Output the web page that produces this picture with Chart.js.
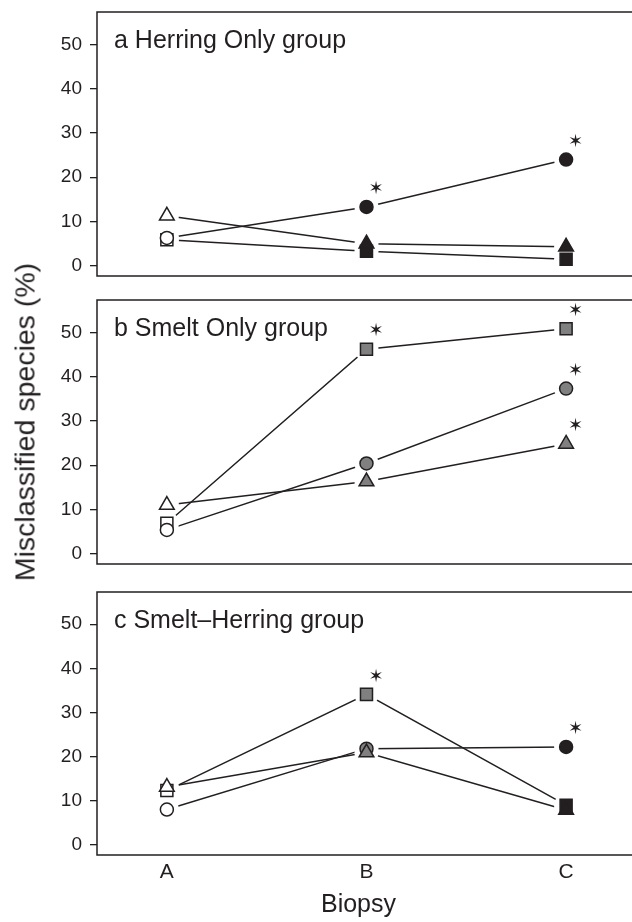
<!DOCTYPE html>
<html>
<head>
<meta charset="utf-8">
<script src="https://cdn.jsdelivr.net/npm/chart.js@4.4.1/dist/chart.umd.min.js"></script>
<style>
  body { margin: 0; background: #fff; }
  #wrap { position: relative; width: 632px; height: 922px; overflow: hidden; font-family: "Liberation Sans", Arial, sans-serif; }
  canvas { position: absolute; left: 0; }
  #ylab { position: absolute; left: 25px; top: 422px; transform: translate(-50%, -50%) rotate(-90deg);
          white-space: nowrap; font-size: 28.5px; color: #231f20; }
</style>
</head>
<body>
<div id="wrap">
  <canvas id="panelA" width="632" height="288" style="top:0px"></canvas>
  <canvas id="panelB" width="632" height="288" style="top:288px"></canvas>
  <canvas id="panelC" width="632" height="342" style="top:580px"></canvas>
  <div id="ylab">Misclassified species (%)</div>
</div>
<script>
// biopsy positions on the x axis
const biopsies = ['A', 'B', 'C'];
const biopsyPos = [1, 2, 3];
const yTicks = [0, 10, 20, 30, 40, 50];
const titles = ['a Herring Only group', 'b Smelt Only group', 'c Smelt\u2013Herring group'];

// a: Herring Only
const herringCircle = [6.3, 13.3, 24.0];
const herringTriangle = [11.3, 5.0, 4.3];
const herringSquare = [5.9, 3.3, 1.5];
const herringCircleStar = [0, 1, 1];
const herringTriangleStar = [0, 0, 0];
const herringSquareStar = [0, 0, 0];
const herringFill = ['open', 'black', 'black'];

// b: Smelt Only
const smeltCircle = [5.4, 20.4, 37.3];
const smeltTriangle = [11.0, 16.3, 24.8];
const smeltSquare = [6.9, 46.2, 50.8];
const smeltCircleStar = [0, 0, 1];
const smeltTriangleStar = [0, 0, 1];
const smeltSquareStar = [0, 1, 1];
const smeltFill = ['open', 'grey', 'grey'];

// c: Smelt-Herring
const mixedCircle = [8.0, 21.8, 22.2];
const mixedTriangle = [13.1, 20.9, 7.9];
const mixedSquare = [12.3, 34.1, 9.0];
const mixedCircleStar = [0, 0, 1];
const mixedTriangleStar = [0, 0, 0];
const mixedSquareStar = [0, 1, 0];
const mixedFill = ['open', 'grey', 'black'];

const INK = '#231f20';
const fillColors = { open: '#ffffff', grey: '#808080', black: INK };

function pts(values) {
    return biopsyPos.map((x, i) => ({ x: x, y: values[i] }));
}

// draws the panel box, the panel title and the asterisks
const panelDeco = {
    id: 'panelDeco',
    afterDatasetsDraw(chart, args, opts) {
        const ctx = chart.ctx;
        const a = chart.chartArea;
        ctx.save();
        ctx.strokeStyle = INK;
        ctx.lineWidth = 1.5;
        ctx.beginPath();
        ctx.moveTo(chart.width, a.top);
        ctx.lineTo(a.left, a.top);
        ctx.lineTo(a.left, a.bottom);
        ctx.lineTo(chart.width, a.bottom);
        ctx.stroke();

        ctx.fillStyle = INK;
        ctx.font = '25px "Liberation Sans", Arial, sans-serif';
        ctx.textBaseline = 'alphabetic';
        ctx.fillText(opts.title, a.left + 17, a.top + 36);

        ctx.font = 'bold 18px "DejaVu Sans"';
        ctx.textAlign = 'center';
        ctx.textBaseline = 'middle';
        chart.data.datasets.forEach((ds, di) => {
            if (!ds.stars) return;
            const meta = chart.getDatasetMeta(di);
            ds.stars.forEach((s, i) => {
                if (!s) return;
                const p = meta.data[i];
                ctx.fillText('\u2736', p.x + 9.5, p.y - 17.5);
            });
        });
        ctx.restore();
    }
};

function makePanel(id, title, circle, triangle, square, stars, fills, showX) {
    const series = [
        { vals: square, style: 'rect', r: 8.5, order: 3, stars: stars[2] },
        { vals: circle, style: 'circle', r: 6.5, order: 2, stars: stars[0] },
        { vals: triangle, style: 'triangle', r: 8.5, order: 1, stars: stars[1] }
    ];
    const datasets = [];
    series.forEach(s => {
        // connecting line
        datasets.push({ data: pts(s.vals), showLine: true, borderColor: INK, borderWidth: 1.5,
            pointRadius: 0, order: 30 });
        // white gap round each point, like R type="b"
        datasets.push({ data: pts(s.vals), showLine: false, pointRadius: 12, pointStyle: 'circle',
            pointBackgroundColor: '#fff', pointBorderWidth: 0, order: 20 });
        // marker
        datasets.push({ data: pts(s.vals), showLine: false, pointStyle: s.style, pointRadius: s.r,
            pointBackgroundColor: fills.map(f => fillColors[f]), pointBorderColor: INK,
            pointBorderWidth: 1.5, order: s.order, stars: s.stars });
    });

    return new Chart(document.getElementById(id), {
        type: 'scatter',
        data: { datasets: datasets },
        plugins: [panelDeco],
        options: {
            responsive: false,
            animation: false,
            events: [],
            layout: { padding: { top: 4, bottom: showX ? 0 : 5, left: 0, right: 0 } },
            plugins: {
                legend: { display: false },
                tooltip: { enabled: false },
                panelDeco: { title: title }
            },
            scales: {
                x: {
                    type: 'linear',
                    min: 0.65,
                    max: 3.27,
                    display: showX,
                    afterBuildTicks: s => { s.ticks = biopsyPos.map(v => ({ value: v })); },
                    afterFit: s => {
                        s.height = showX ? 67 : 0;
                        s.paddingLeft = 0;
                        s.paddingRight = 0;
                    },
                    grid: { display: false, drawTicks: false },
                    border: { display: false },
                    ticks: {
                        padding: 5,
                        color: INK,
                        font: { family: '"Liberation Sans", Arial, sans-serif', size: 21 },
                        callback: v => biopsies[biopsyPos.indexOf(v)]
                    },
                    title: {
                        display: true,
                        text: 'Biopsy',
                        color: INK,
                        padding: { top: 0, bottom: 2 },
                        font: { family: '"Liberation Sans", Arial, sans-serif', size: 25 }
                    }
                },
                y: {
                    type: 'linear',
                    position: 'left',
                    min: -2.3,
                    max: 57.3,
                    afterBuildTicks: s => { s.ticks = yTicks.map(v => ({ value: v })); },
                    afterFit: s => { s.width = 97; s.paddingTop = 0; s.paddingBottom = 0; },
                    grid: { drawOnChartArea: false, drawTicks: true, tickLength: 7, color: INK, lineWidth: 1.3 },
                    border: { display: false },
                    ticks: {
                        padding: 8,
                        color: INK,
                        font: { family: '"Liberation Sans", Arial, sans-serif', size: 19 }
                    }
                }
            }
        }
    });
}

makePanel('panelA', titles[0], herringCircle, herringTriangle, herringSquare,
    [herringCircleStar, herringTriangleStar, herringSquareStar], herringFill, false);
makePanel('panelB', titles[1], smeltCircle, smeltTriangle, smeltSquare,
    [smeltCircleStar, smeltTriangleStar, smeltSquareStar], smeltFill, false);
makePanel('panelC', titles[2], mixedCircle, mixedTriangle, mixedSquare,
    [mixedCircleStar, mixedTriangleStar, mixedSquareStar], mixedFill, true);
</script>
</body>
</html>
